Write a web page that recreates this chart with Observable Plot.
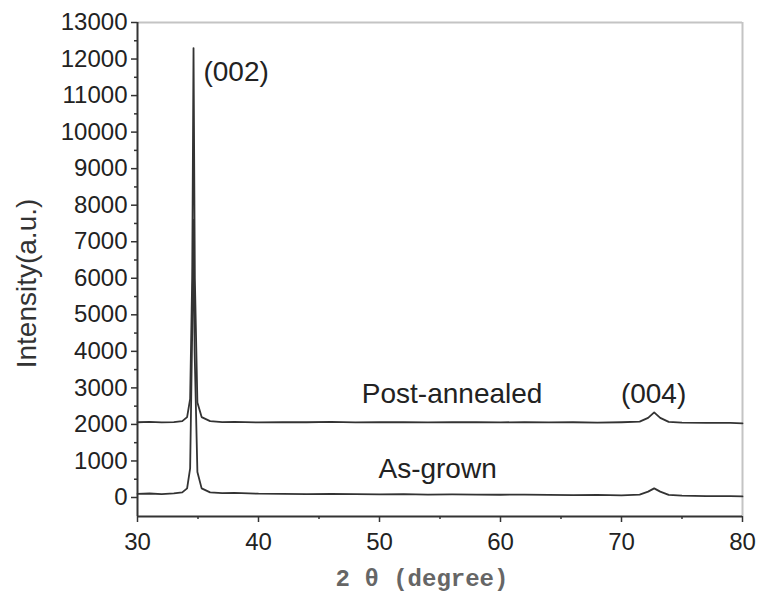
<!DOCTYPE html>
<html>
<head>
<meta charset="utf-8">
<script src="https://cdn.jsdelivr.net/npm/d3@7"></script>
<script src="https://cdn.jsdelivr.net/npm/@observablehq/plot@0.6"></script>
<style>
  html, body { margin: 0; padding: 0; background: #fff; }
  #chart { width: 757px; height: 599px; }
</style>
</head>
<body>
<div id="chart"></div>
<script>
// ---- data ----
const postX = [30, 31, 32, 33, 33.7, 34.1, 34.35, 34.52, 34.63, 34.74, 34.95, 35.3, 36, 37, 38, 40, 42, 44, 46, 48, 50, 52, 54, 56, 58, 60, 62, 64, 66, 68, 70, 71.5, 72.2, 72.7, 73.2, 73.9, 75, 77, 79, 80];
const postY = [2060, 2070, 2055, 2065, 2090, 2200, 2700, 6000, 12300, 6000, 2600, 2200, 2090, 2065, 2070, 2055, 2065, 2060, 2070, 2055, 2060, 2065, 2055, 2060, 2065, 2055, 2065, 2055, 2060, 2050, 2060, 2075, 2180, 2330, 2180, 2070, 2050, 2045, 2040, 2030];

const asX = [30, 31, 32, 33, 33.7, 34.1, 34.35, 34.52, 34.62, 34.72, 34.95, 35.3, 36, 37, 38, 40, 42, 44, 46, 48, 50, 52, 54, 56, 58, 60, 62, 64, 66, 68, 70, 71.5, 72.2, 72.7, 73.2, 73.9, 75, 77, 79, 80];
const asY = [100, 110, 95, 115, 140, 250, 800, 4500, 7600, 4000, 700, 250, 140, 120, 125, 105, 100, 95, 100, 90, 85, 90, 80, 85, 80, 75, 80, 70, 65, 70, 60, 80, 160, 250, 160, 70, 50, 40, 35, 30];

const yTicks = [0, 1000, 2000, 3000, 4000, 5000, 6000, 7000, 8000, 9000, 10000, 11000, 12000, 13000];
const yMinor = [500, 1500, 2500, 3500, 4500, 5500, 6500, 7500, 8500, 9500, 10500, 11500, 12500];
const xTicks = [30, 40, 50, 60, 70, 80];
const xMinor = [35, 45, 55, 65, 75];

const annX = [35.45, 56.0, 72.65, 54.8];
const annY = [11640, 2820, 2820, 770];
const annText = ["(002)", "Post-annealed", "(004)", "As-grown"];
const annAnchor = ["start", "middle", "middle", "middle"];

const yLabel = "Intensity(a.u.)";
const xLabel = "2 \u03B8 (degree)";

// ---- build tables ----
const rows = [
  ...postX.map((x, i) => ({x, y: postY[i], s: "Post-annealed"})),
  ...asX.map((x, i) => ({x, y: asY[i], s: "As-grown"}))
];
const ann = annText.map((t, i) => ({x: annX[i], y: annY[i], t, a: annAnchor[i]}));

const font = "'Liberation Sans', Arial, sans-serif";

const chart = Plot.plot({
  width: 757,
  height: 599,
  marginLeft: 137,
  marginRight: 15,
  marginTop: 22,
  marginBottom: 83,
  style: {fontFamily: font, background: "#fff", color: "#222"},
  x: {domain: [30, 80]},
  y: {domain: [-520, 13000]},
  marks: [
    Plot.ruleY([13000], {stroke: "#c4c4c4", strokeWidth: 2}),
    Plot.ruleX([80], {stroke: "#c4c4c4", strokeWidth: 2}),
    Plot.line(rows, {x: "x", y: "y", z: "s", stroke: "#333", strokeWidth: 1.8}),
    Plot.ruleX([30], {stroke: "#333", strokeWidth: 2}),
    Plot.ruleY([-520], {stroke: "#333", strokeWidth: 2}),
    Plot.axisY({ticks: yTicks, tickFormat: "d", tickSize: 6, tickPadding: 4, fontSize: 24, label: null, stroke: "#333", strokeWidth: 1.5}),
    Plot.axisY({ticks: yMinor, tickFormat: () => "", tickSize: 3, label: null, stroke: "#333", strokeWidth: 1.5}),
    Plot.axisX({ticks: xTicks, tickFormat: "d", tickSize: 6, tickPadding: 10, fontSize: 24, label: null, stroke: "#333", strokeWidth: 1.5}),
    Plot.axisX({ticks: xMinor, tickFormat: () => "", tickSize: 3, label: null, stroke: "#333", strokeWidth: 1.5}),
    Plot.text(ann.filter(d => d.a === "start"), {x: "x", y: "y", text: "t", textAnchor: "start", fontSize: 28, fill: "#222"}),
    Plot.text(ann.filter(d => d.a === "middle"), {x: "x", y: "y", text: "t", textAnchor: "middle", fontSize: 28, fill: "#222"}),
    Plot.text([yLabel], {frameAnchor: "left", textAnchor: "middle", rotate: -90, dx: -110, dy: 14, fontSize: 28, fill: "#333"}),
    Plot.text([xLabel], {frameAnchor: "bottom", textAnchor: "middle", dy: 69, dx: -18, fontSize: 24, fontWeight: "bold", fill: "#666", fontFamily: "'Liberation Mono', 'DejaVu Serif', serif"})
  ]
});
document.getElementById("chart").appendChild(chart);
</script>
</body>
</html>
